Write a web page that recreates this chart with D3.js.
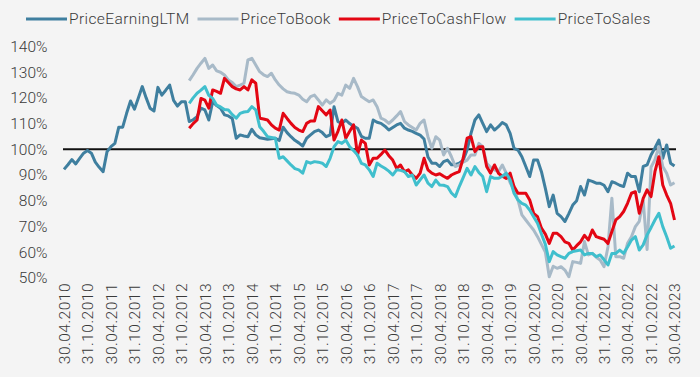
<!DOCTYPE html>
<html>
<head>
<meta charset="utf-8">
<script src="https://cdn.jsdelivr.net/npm/d3@7"></script>
<style>
  html, body { margin: 0; padding: 0; background: #f4f4f4; }
  svg { display: block; font-family: Roboto, "Noto Sans", sans-serif; font-weight: 300; }
</style>
</head>
<body>
<div id="chart"></div>
<script>
// monthly observations, first one is end of April 2010
let startYear = 2010, startMonth = 4;
let monthCount = 157;

let seriesNames = ["PriceEarningLTM", "PriceToBook", "PriceToCashFlow", "PriceToSales"];
let seriesColors = ["#3f7f9f", "#a8bac8", "#e30613", "#40bfcd"];

// the three other ratios start in December 2012 (month 32)
let lateStart = 32;

let priceEarning = [
    92.2, 94, 96, 94.3, 96.5, 98.5, 99.5, 98.5, 95, 93,
    91.3, 99.1, 101, 102.3, 108.6, 108.6, 114, 118.8, 115.6, 120,
    124.4, 120, 116, 114.9, 124.1, 121.1, 123, 125, 119, 116.8,
    118.5, 118.5, 110.8, 111.5, 112.7, 116, 115.3, 111.4, 118.5, 117,
    116, 113.4, 113, 112, 104.3, 105.6, 105.2, 104.9, 107.8, 105.6,
    104.5, 104.2, 103.9, 104.1, 104.3, 103.4, 108.6, 106.5, 104.9, 103.5,
    102.5, 101.3, 104.3, 105.6, 106.9, 107.5, 106.5, 104.9, 105.6, 116.6,
    110.8, 110.1, 111.4, 110, 109, 108.2, 105, 104.3, 104.3, 111.4,
    110.5, 110.1, 109, 107.5, 108.5, 109.5, 110.1, 108.2, 107.5, 107,
    106.2, 105.5, 104, 97, 94.6, 94.6, 93.3, 95.2, 95.8, 94,
    94, 94.6, 95.8, 99.7, 106.2, 111.4, 113.4, 110.1, 106.9, 109.5,
    107.5, 108.8, 110.4, 109.5, 106.2, 100.4, 99.7, 97.1, 93.3, 89.4,
    95.8, 95.8, 91.3, 84.8, 77.7, 82.2, 75.1, 73.8, 71.9, 75,
    78.3, 80, 85.5, 82.2, 88, 87.5, 86.8, 86.8, 86, 83.5,
    87.4, 86.8, 86, 85.5, 90.7, 89.4, 89.4, 83.5, 93.3, 93.9,
    97.8, 100.5, 103.6, 96.5, 101.7, 94.6, 93.5
];

let priceToBook = [
    126.7, 129, 131.5, 133.5, 135.4, 131.5, 132.8, 130.5,
    130, 128.9, 127, 126, 124.4, 125, 125.7, 134.8, 135.4, 132.8,
    130.2, 129, 128.3, 129.6, 127, 125, 123.5, 122.4, 122, 121.8,
    121.1, 119.5, 118.5, 120.5, 121.1, 119.2, 117.2, 119.2, 117.9, 119,
    121.8, 121.1, 125, 123.7, 127.6, 124.4, 120.5, 119.5, 118.5, 119.2,
    116.6, 112.1, 111.4, 110.1, 111.4, 113, 114.7, 110.8, 109.5, 108.5,
    107.5, 110.1, 111.4, 104.9, 100.4, 104.9, 103.6, 97.8, 100.4, 97.1,
    93.3, 93.9, 95, 95.8, 97.8, 97.8, 102.3, 101, 94.6, 93,
    92, 91.3, 93.9, 90.7, 87, 84.2, 80.3, 74.5, 72.5, 70.5,
    68.6, 66, 63, 60, 50.4, 54.5, 53.7, 54.3, 53, 50.4,
    56.3, 56, 55.6, 64.1, 58.9, 59.5, 58, 56.9, 54.3, 62,
    81, 58.2, 58.2, 57.6, 63.4, 66, 69.9, 72, 80, 61,
    93, 96, 101, 93.3, 90.7, 86.1, 87
];

let priceToCashFlow = [
    108.2, 110, 111.4, 119.8, 119.1, 116, 123.1, 122.5,
    121.8, 127.6, 126, 124.4, 123.5, 123.1, 124.4, 123.1, 127, 125.7,
    112.1, 111.8, 111.4, 109.5, 108.2, 107.5, 114, 112, 110.1, 108.5,
    107.5, 106.9, 110.1, 111, 111, 116.6, 115, 113.4, 115.3, 103.6,
    107, 111.4, 104.3, 107, 109.5, 97.8, 103.6, 102.3, 93.9, 96.5,
    96.5, 98, 99.7, 97.5, 95.8, 92.6, 93.9, 91.3, 92, 90,
    88.7, 90.7, 96.5, 92, 90.7, 90, 90.5, 89.5, 88.7, 90,
    90.7, 91.3, 96.5, 104.3, 104.9, 99.1, 101, 101, 93.3, 90.7,
    93.9, 90.7, 89.5, 88.7, 90.7, 85.5, 82.9, 82.9, 82.9, 80.3,
    75.1, 73.8, 69.3, 67, 63.4, 67.3, 67.3, 66, 64, 63.4,
    60.8, 62.5, 64, 66.5, 64.7, 68.6, 66, 65.5, 65, 63.4,
    68, 72.5, 73.8, 75.8, 79, 82.9, 83.5, 75.1, 80.9, 84.2,
    81.6, 91.3, 97.1, 86.1, 82.2, 79, 72.5
];

let priceToSales = [
    117.9, 120, 121.8, 123, 124.4, 121, 119.8, 117.2,
    116.5, 115.5, 115.3, 113.5, 112.1, 114, 114.5, 114.7, 116.6, 115.3,
    108.8, 107, 104.9, 104.6, 104.3, 96.5, 97.1, 95.5, 93.9, 92.5,
    92, 90.7, 95.2, 94.6, 95.2, 95, 94.6, 93.3, 96.5, 101,
    103, 102.3, 103.6, 101, 99.5, 97.8, 94.5, 93.9, 92, 89.4,
    94.6, 93.5, 92.6, 91.5, 90, 92, 91.8, 91.3, 89.4, 90,
    86.1, 88.1, 90, 86.8, 85.5, 88, 86.1, 86, 85.5, 83,
    81.6, 85.5, 89, 92.6, 90, 93.3, 91, 89.4, 83.5, 89.4,
    88.7, 88.7, 89.5, 90.7, 88.1, 82.9, 80.3, 79, 78.3, 76.4,
    73.8, 71.2, 67, 63, 56.3, 60.2, 58.9, 58.2, 57.6, 59.5,
    60.2, 60.5, 60.8, 58.9, 59.5, 59.5, 58.2, 58.9, 57, 55,
    59.5, 59.5, 60.8, 59.5, 62, 64.7, 66, 60.8, 62.8, 66.7,
    69.5, 72.5, 75.1, 69.9, 66, 61.5, 62.4
];

let yTicks = [50, 60, 70, 80, 90, 100, 110, 120, 130, 140];
let labelEvery = 6;

function chartConfiguration(){
    let width = 700;
    let height = 377;
    let plot = { left: 64, right: 674.5, top: 46.5, bottom: 277.8 };
    let container = d3.select("#chart")
                    .append("svg")
                    .attr("width", width)
                    .attr("height", height);
    container.append("rect")
            .attr("width", width)
            .attr("height", height)
            .attr("fill", "#f4f4f4");
    return { width, height, plot, container };
}

function buildData(){
    let months = d3.range(monthCount);
    // last day of each month
    let dates = months.map(i => new Date(startYear, startMonth + i, 0));
    let all = [priceEarning, priceToBook, priceToCashFlow, priceToSales];
    let series = seriesNames.map(function(name, k){
        let offset = k == 0 ? 0 : lateStart;
        return {
            name: name,
            color: seriesColors[k],
            values: all[k].map((v, i) => ({ month: i + offset, value: v }))
        }
    });
    return { months, dates, series };
}

function chartScales(data, config){
    let { plot } = config;
    let xScale = d3.scalePoint()
                .domain(data.months)
                .range([plot.left, plot.right]);
    let yScale = d3.scaleLinear()
                .domain([140, 50])
                .range([plot.top, plot.bottom]);
    return { xScale, yScale };
}

function drawChart(data, scales, config){
    let { xScale, yScale } = scales;
    let { container, plot } = config;
    let fmt = d3.timeFormat("%d.%m.%Y");

    let axisY = d3.axisLeft(yScale)
                .tickValues(yTicks)
                .tickSize(0)
                .tickPadding(0)
                .tickFormat(d => d + "%");
    container.append("g")
            .attr("transform", "translate(47.5,0)")
            .call(axisY)
            .call(g => g.select(".domain").remove())
            .selectAll("text")
            .attr("fill", "#3a3a3a")
            .style("font-size", "15.5px")
            .style("font-family", "Roboto")
            .style("font-weight", 300);

    let axisX = d3.axisBottom(xScale)
                .tickValues(data.months.filter(m => m % labelEvery == 0))
                .tickSize(0)
                .tickFormat(m => fmt(data.dates[m]));
    container.append("g")
            .attr("transform", "translate(0,283)")
            .call(axisX)
            .call(g => g.select(".domain").remove())
            .selectAll("text")
            .attr("fill", "#3a3a3a")
            .style("font-size", "15.5px")
            .style("font-family", "Roboto")
            .style("font-weight", 300)
            .style("letter-spacing", "0.5px")
            .style("text-anchor", "end")
            .attr("x", 0)
            .attr("y", 0)
            .attr("dx", 0)
            .attr("dy", "0.35em")
            .attr("transform", "rotate(-90)");

    // 100% reference line
    container.append("line")
            .attr("x1", plot.left - 1)
            .attr("x2", plot.right + 1.5)
            .attr("y1", yScale(100))
            .attr("y2", yScale(100))
            .style("stroke", "#111")
            .style("stroke-width", 2);

    let line = d3.line()
                .x(d => xScale(d.month))
                .y(d => yScale(d.value));

    container.selectAll(".series")
            .data(data.series)
            .enter()
            .append("path")
            .attr("class", "series")
            .attr("d", d => line(d.values))
            .attr("fill", "none")
            .attr("stroke", d => d.color)
            .attr("stroke-width", 3)
            .attr("stroke-linejoin", "round");
}

function legend(data, config){
    let { container } = config;
    let g = container.append("g");
    let x = 26, y = 19;
    data.series.forEach(function(s){
        g.append("line")
            .attr("x1", x)
            .attr("x2", x + 41)
            .attr("y1", y)
            .attr("y2", y)
            .style("stroke", s.color)
            .style("stroke-width", 3);
        let t = g.append("text")
            .attr("x", x + 43)
            .attr("y", y)
            .attr("dy", "0.35em")
            .attr("fill", "#3a3a3a")
            .style("font-size", "15.5px")
            .style("font-weight", 300)
            .style("letter-spacing", "0.4px")
            .text(s.name);
        x += 43 + t.node().getComputedTextLength() + 8;
    });
}

let data = buildData();
let config = chartConfiguration();
let scales = chartScales(data, config);
drawChart(data, scales, config);
legend(data, config);
</script>
</body>
</html>
